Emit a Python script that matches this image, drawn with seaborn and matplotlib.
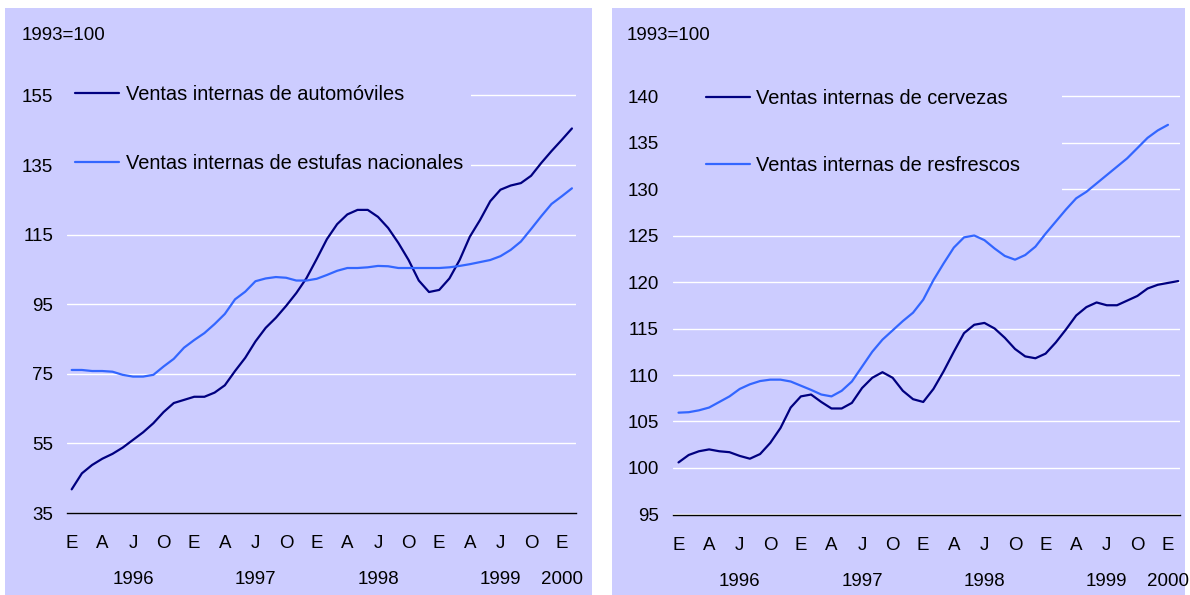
import matplotlib
matplotlib.use("Agg")
import pandas as pd
import matplotlib.pyplot as plt
import matplotlib.transforms as mtransforms
from matplotlib.patches import Rectangle
import seaborn as sns

# === DATA (monthly index, Jan 1996 = 0) ===
quarter_labels = ["E", "A", "J", "O"] * 4 + ["E"]
quarter_pos = list(range(0, 49, 3))
year_labels = ["1996", "1997", "1998", "1999", "2000"]
year_pos = [6, 18, 30, 42, 48]

autos = [41.8, 46.4, 48.8, 50.6, 52.0, 53.8, 56.0, 58.2, 60.8, 64.0,
         66.6, 67.5, 68.4, 68.4, 69.6, 71.7, 75.8, 79.6, 84.3, 88.2,
         91.1, 94.5, 98.2, 102.5, 108.0, 113.7, 118.0, 120.8, 122.1, 122.1,
         120.1, 116.9, 112.6, 107.7, 101.8, 98.5, 99.1, 102.4, 107.7, 114.4,
         119.2, 124.6, 127.9, 129.1, 129.8, 131.9, 135.6, 139.0, 142.2, 145.5]
estufas = [76.1, 76.1, 75.8, 75.8, 75.6, 74.7, 74.2, 74.2, 74.7, 77.1,
           79.3, 82.5, 84.7, 86.7, 89.3, 92.2, 96.4, 98.6, 101.6, 102.4,
           102.8, 102.6, 101.8, 101.8, 102.3, 103.4, 104.6, 105.4, 105.4, 105.6,
           106.0, 105.9, 105.4, 105.4, 105.4, 105.4, 105.4, 105.6, 106.0, 106.5,
           107.1, 107.7, 108.8, 110.6, 113.0, 116.6, 120.3, 123.8, 126.0, 128.3]
cervezas = [100.6, 101.4, 101.8, 102.0, 101.8, 101.7, 101.3, 101.0, 101.5, 102.7,
            104.3, 106.5, 107.7, 107.9, 107.1, 106.4, 106.4, 107.0, 108.6, 109.7,
            110.3, 109.7, 108.3, 107.4, 107.1, 108.5, 110.4, 112.5, 114.5, 115.4,
            115.6, 115.0, 114.0, 112.8, 112.0, 111.8, 112.3, 113.5, 114.9, 116.4,
            117.3, 117.8, 117.5, 117.5, 118.0, 118.5, 119.3, 119.7, 119.9, 120.1]
refrescos = [105.95, 106.0, 106.2, 106.5, 107.1, 107.7, 108.5, 109.0, 109.35, 109.5,
             109.5, 109.3, 108.85, 108.4, 107.9, 107.7, 108.3, 109.3, 110.9, 112.5,
             113.8, 114.8, 115.8, 116.7, 118.1, 120.2, 122.0, 123.7, 124.8, 125.0,
             124.5, 123.6, 122.8, 122.4, 122.9, 123.8, 125.2, 126.5, 127.8, 129.0,
             129.7, 130.6, 131.5, 132.4, 133.3, 134.4, 135.5, 136.3, 136.9]

left_df = pd.DataFrame({"mes": range(len(autos)), "autos": autos, "estufas": estufas})
cerv_df = pd.DataFrame({"mes": range(len(cervezas)), "valor": cervezas})
refr_df = pd.DataFrame({"mes": range(len(refrescos)), "valor": refrescos})

# === STYLE ===
BG = "#CCCCFF"
DARK = "#000080"
LIGHT = "#3366FF"
W, H = 1190, 595

sns.set_theme(style="white", rc={"text.color": "black", "xtick.color": "black",
                                 "ytick.color": "black"})
plt.rcParams["font.family"] = ["Liberation Sans", "DejaVu Sans"]

fig = plt.figure(figsize=(W / 100, H / 100), dpi=100)
fig.patch.set_facecolor("white")

# panel backgrounds
for x0, x1 in [(5, 592), (612, 1185)]:
    fig.add_artist(Rectangle((x0 / W, 0), (x1 - x0) / W, (H - 8) / H,
                             transform=fig.transFigure, facecolor=BG,
                             edgecolor="none", zorder=-1))


def setup(ax, yticks, ylim, xlim, mask_w, mask_y):
    ax.set_facecolor("none")
    ax.set_xlim(*xlim)
    ax.set_ylim(*ylim)
    ax.set_yticks(yticks)
    ax.xaxis.remove_overlapping_locs = False
    ax.set_xticks(quarter_pos)
    ax.set_xticklabels(quarter_labels)
    ax.set_xticks(year_pos, minor=True)
    ax.set_xticklabels(year_labels, minor=True)
    ax.tick_params(axis="x", which="major", length=0, pad=16, labelsize=13.5)
    ax.tick_params(axis="x", which="minor", length=0, pad=42, labelsize=13.5)
    ax.tick_params(axis="y", length=0, pad=10, labelsize=13.5)
    ax.set_xlabel("")
    ax.set_ylabel("")
    ax.grid(axis="y", color="white", linewidth=1.0)
    ax.grid(axis="x", visible=False)
    ax.set_axisbelow(True)
    for s in ["top", "right", "left"]:
        ax.spines[s].set_visible(False)
    ax.spines["bottom"].set_color("black")
    ax.spines["bottom"].set_linewidth(1.0)
    # legend area hides the upper gridlines
    trans = mtransforms.blended_transform_factory(ax.transAxes, ax.transData)
    ax.add_patch(Rectangle((0, mask_y[0]), mask_w, mask_y[1] - mask_y[0], transform=trans,
                           facecolor=BG, edgecolor="none", zorder=1))


# --- Left panel ---
ax1 = fig.add_axes([67 / W, 1 - 513 / H, 508.5 / W, (513 - 78) / H])
sns.lineplot(data=left_df, x="mes", y="autos", ax=ax1, color=DARK, linewidth=1.6,
             label="Ventas internas de automóviles", zorder=3)
sns.lineplot(data=left_df, x="mes", y="estufas", ax=ax1, color=LIGHT, linewidth=1.6,
             label="Ventas internas de estufas nacionales", zorder=3)
setup(ax1, range(35, 156, 20), (35, 160), (-0.46, 49.35), (470.5 - 67) / 508.5, (128, 161))
ax1.legend(loc="upper left", bbox_to_anchor=(75 / W, 1 - 85 / H), bbox_transform=fig.transFigure,
           frameon=False, fontsize=14.4, handlelength=2.2, handletextpad=0.35,
           labelspacing=2.5, borderpad=0, borderaxespad=0, labelcolor="black")

# --- Right panel ---
ax2 = fig.add_axes([672.5 / W, 1 - 514.5 / H, 507.5 / W, (514.5 - 77.4) / H])
sns.lineplot(data=cerv_df, x="mes", y="valor", ax=ax2, color=DARK, linewidth=1.6,
             label="Ventas internas de cervezas", zorder=3)
sns.lineplot(data=refr_df, x="mes", y="valor", ax=ax2, color=LIGHT, linewidth=1.6,
             label="Ventas internas de resfrescos", zorder=3)
setup(ax2, range(95, 141, 5), (95, 142), (-0.59, 49.18), (1062 - 672.5) / 507.5, (128.5, 143))
ax2.legend(loc="upper left", bbox_to_anchor=(706 / W, 1 - 89 / H), bbox_transform=fig.transFigure,
           frameon=False, fontsize=14.4, handlelength=2.2, handletextpad=0.3,
           labelspacing=2.4, borderpad=0, borderaxespad=0, labelcolor="black")

fig.text(22 / W, 1 - 35 / H, "1993=100", fontsize=13.5, ha="left", va="center")
fig.text(627 / W, 1 - 35 / H, "1993=100", fontsize=13.5, ha="left", va="center")

fig.savefig("out.png", dpi=100, facecolor="white")
